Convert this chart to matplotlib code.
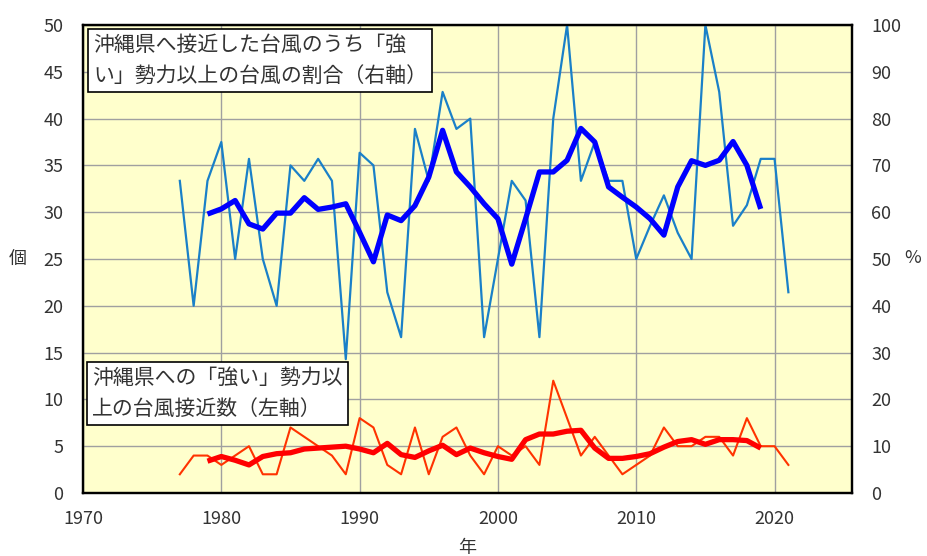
import matplotlib
matplotlib.use("Agg")
import matplotlib.pyplot as plt

plt.rcParams['font.family'] = ['Noto Sans CJK JP', 'DejaVu Sans']

years = [1977, 1978, 1979, 1980, 1981, 1982, 1983, 1984, 1985, 1986,
         1987, 1988, 1989, 1990, 1991, 1992, 1993, 1994, 1995, 1996,
         1997, 1998, 1999, 2000, 2001, 2002, 2003, 2004, 2005, 2006,
         2007, 2008, 2009, 2010, 2011, 2012, 2013, 2014, 2015, 2016,
         2017, 2018, 2019, 2020, 2021]

# ratio of "strong" typhoons among approaching ones (%), right axis
ratio_pct = [66.7, 40.0, 66.7, 75.0, 50.0, 71.4, 50.0, 40.0, 70.0, 66.7,
             71.4, 66.7, 28.6, 72.7, 70.0, 42.9, 33.3, 77.8, 66.7, 85.7,
             77.8, 80.0, 33.3, 50.0, 66.7, 62.5, 33.3, 80.0, 100.0, 66.7,
             75.0, 66.7, 66.7, 50.0, 57.1, 63.6, 55.6, 50.0, 100.0, 85.7,
             57.1, 61.5, 71.4, 71.4, 42.9]

# number of "strong" typhoons approaching Okinawa, left axis
strong_count = [2, 4, 4, 3, 4, 5, 2, 2, 7, 6,
                5, 4, 2, 8, 7, 3, 2, 7, 2, 6,
                7, 4, 2, 5, 4, 5, 3, 12, 8, 4,
                6, 4, 2, 3, 4, 7, 5, 5, 6, 6,
                4, 8, 5, 5, 3]

# 5-year running means, 1979-2019
ma_years = [1979, 1980, 1981, 1982, 1983, 1984, 1985, 1986, 1987, 1988,
            1989, 1990, 1991, 1992, 1993, 1994, 1995, 1996, 1997, 1998,
            1999, 2000, 2001, 2002, 2003, 2004, 2005, 2006, 2007, 2008,
            2009, 2010, 2011, 2012, 2013, 2014, 2015, 2016, 2017, 2018,
            2019]
ratio_ma = [59.6, 60.7, 62.5, 57.5, 56.4, 59.8, 59.8, 63.1, 60.6, 61.1,
            61.8, 55.7, 49.4, 59.4, 58.2, 61.4, 67.5, 77.5, 68.6, 65.4,
            61.8, 58.6, 48.9, 58.6, 68.6, 68.6, 71.1, 77.9, 75.0, 65.4,
            63.2, 61.1, 58.6, 55.1, 65.4, 71.0, 70.0, 71.1, 75.1, 70.0,
            60.7]
count_ma = [3.4, 3.9, 3.5, 3.0, 3.9, 4.2, 4.3, 4.7, 4.8, 4.9,
            5.0, 4.7, 4.3, 5.3, 4.1, 3.8, 4.5, 5.1, 4.1, 4.8,
            4.3, 3.9, 3.6, 5.7, 6.3, 6.3, 6.6, 6.7, 4.8, 3.7,
            3.7, 3.9, 4.2, 4.9, 5.5, 5.7, 5.2, 5.7, 5.7, 5.6,
            4.8]

x_ticks = [1970, 1980, 1990, 2000, 2010, 2020]
left_ticks = [0, 5, 10, 15, 20, 25, 30, 35, 40, 45, 50]
right_ticks = [0, 10, 20, 30, 40, 50, 60, 70, 80, 90, 100]

W, H = 928, 556
fig = plt.figure(figsize=(W / 100, H / 100), dpi=100)
fig.patch.set_facecolor('white')

L, R, T, B = 83, 852, 25, 493
ax = fig.add_axes([L / W, 1 - B / H, (R - L) / W, (B - T) / H])
ax.set_facecolor('#FFFFCC')
ax2 = ax.twinx()
ax2.patch.set_visible(False)

ax.set_xlim(1970, 2025.6)
ax.set_ylim(0, 50)
ax2.set_ylim(0, 100)

ax.set_xticks(x_ticks)
ax.set_yticks(left_ticks)
ax2.set_yticks(right_ticks)

ax.grid(True, color='#A0A0A0', linewidth=1.0)
ax.set_axisbelow(True)

txtc = '#333333'
ax.tick_params(axis='both', length=0, labelsize=13, labelcolor=txtc)
ax.tick_params(axis='y', pad=14)
ax.tick_params(axis='x', pad=12)
ax2.tick_params(axis='y', length=0, labelsize=13, labelcolor=txtc, pad=14)

for a in (ax, ax2):
    for s in a.spines.values():
        s.set_linewidth(1.6)
        s.set_color('black')

# lines
ax2.plot(years, ratio_pct, color='#1A80C8', linewidth=1.6, zorder=2)
ax2.plot(ma_years, ratio_ma, color='#0000FF', linewidth=3.8, zorder=3,
         solid_joinstyle='round', solid_capstyle='butt')
ax.plot(years, strong_count, color='#FF3300', linewidth=1.5, zorder=2)
ax.plot(ma_years, count_ma, color='#FF0000', linewidth=3.8, zorder=3,
        solid_joinstyle='round', solid_capstyle='butt')

# axis labels
fig.text(18 / W, 1 - 260 / H, '個', fontsize=13, color=txtc,
         ha='center', va='center')
fig.text(913 / W, 1 - 258 / H, '%', fontsize=13, color=txtc,
         ha='center', va='center')
fig.text(467 / W, 1 - 548 / H, '年', fontsize=13, color=txtc,
         ha='center', va='center')

# annotation boxes
box = dict(boxstyle='square,pad=0.25', facecolor='white',
           edgecolor='black', linewidth=1.2)
fig.text(93 / W, 1 - 34 / H,
         '沖縄県へ接近した台風のうち「強\nい」勢力以上の台風の割合（右軸）',
         fontsize=15, color=txtc, ha='left', va='top', linespacing=1.5,
         bbox=box, zorder=10)
fig.text(92 / W, 1 - 367 / H,
         '沖縄県への「強い」勢力以\n上の台風接近数（左軸）',
         fontsize=15, color=txtc, ha='left', va='top', linespacing=1.5,
         bbox=box, zorder=10)

fig.savefig('out.png', dpi=100)
